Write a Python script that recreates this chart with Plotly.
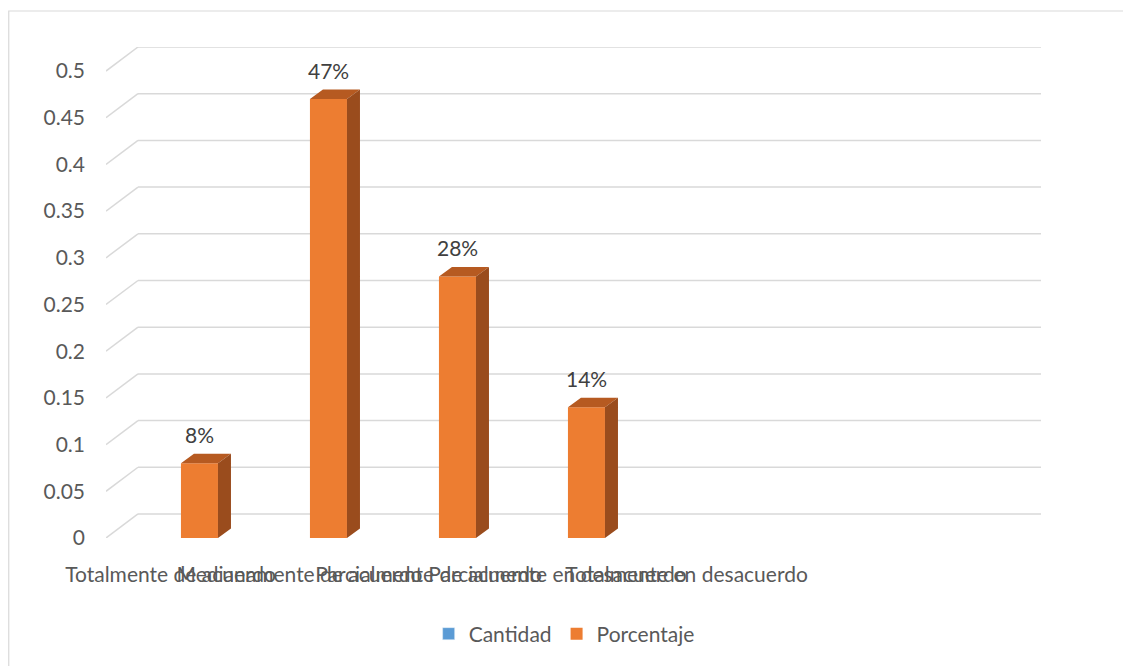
import plotly.graph_objects as go

# ---- data ----
categories = ["Totalmente de acuerdo", "Medianamente de acuerdo", "Parcialmente de acuerdo",
              "Parcialmente en desacuerdo", "Totalmente en desacuerdo", " ", "  "]
porcentaje = [0.08, 0.47, 0.28, 0.14, None, None, None]
cantidad = [None, None, None, None, None, None, None]
pct_labels = ["8%", "47%", "28%", "14%", "", "", ""]
y_ticks = [0, 0.05, 0.1, 0.15, 0.2, 0.25, 0.3, 0.35, 0.4, 0.45, 0.5]
y_tick_labels = ["0", "0.05", "0.1", "0.15", "0.2", "0.25", "0.3", "0.35", "0.4", "0.45", "0.5"]

# ---- layout geometry (page body has an 8px margin) ----
OFF = 8
W, H = 1131 - OFF, 666 - OFF
L, R, T, B = 106 - OFF, 1041 - OFF, 47 - OFF, 538 - OFF
plot_w, plot_h = R - L, B - T
slot_px = 129.0
x0 = -0.5
x1 = x0 + plot_w / slot_px
ppu = (538 - 71.7) / 0.5            # pixels per y-unit
gdx, gdy = 32 / slot_px, 24 / ppu     # back-wall depth offset
y1 = 0.5 + gdy
bar_off, bar_w = 0.081, 0.287
bdx, bdy = 13 / slot_px, 9.5 / ppu    # bar depth

ORANGE = "#ED7D31"
TOP = "#B65A21"
SIDE = "#9A4C1D"
BLUE = "#5B9BD5"
GRID = "#D9D9D9"
TXT = "#595959"
FONT = "Lato"

xs = list(range(len(categories)))

fig = go.Figure()

fig.add_trace(go.Bar(x=xs, y=cantidad, name="Cantidad", marker_color=BLUE,
                     offset=bar_off - bar_w, width=bar_w, hoverinfo="skip"))
fig.add_trace(go.Bar(x=xs, y=porcentaje, name="Porcentaje", marker_color=ORANGE,
                     marker_line_width=0, offset=bar_off, width=bar_w))

# 3D faces computed from the values
top_x, top_y, side_x, side_y = [], [], [], []
for i, v in zip(xs, porcentaje):
    if v is None:
        continue
    xl = i + bar_off
    xr = xl + bar_w
    top_x += [xl, xr, xr + bdx, xl + bdx, xl, None]
    top_y += [v, v, v + bdy, v + bdy, v, None]
    side_x += [xr, xr, xr + bdx, xr + bdx, xr, None]
    side_y += [0, v, v + bdy, bdy, 0, None]

fig.add_trace(go.Scatter(x=top_x, y=top_y, mode="lines", fill="toself", fillcolor=TOP,
                         line=dict(width=0, color=TOP), showlegend=False, hoverinfo="skip"))
fig.add_trace(go.Scatter(x=side_x, y=side_y, mode="lines", fill="toself", fillcolor=SIDE,
                         line=dict(width=0, color=SIDE), showlegend=False, hoverinfo="skip"))

# back wall gridlines + left wall connectors
shapes = []
for v in y_ticks:
    shapes.append(dict(type="line", xref="x", yref="y", x0=x0, y0=v, x1=x0 + gdx, y1=v + gdy,
                       line=dict(color=GRID, width=1.5), layer="below"))
    shapes.append(dict(type="line", xref="x", yref="y", x0=x0 + gdx, y0=v + gdy,
                       x1=x0 + gdx + 7, y1=v + gdy,
                       line=dict(color=GRID, width=1.5), layer="below"))
# chart border
shapes.append(dict(type="rect", xref="paper", yref="paper",
                   x0=(0.75 - L) / plot_w, x1=(1145 - OFF - L) / plot_w,
                   y0=(B - 700) / plot_h, y1=(B - (11 - OFF)) / plot_h,
                   line=dict(color=GRID, width=1.2), fillcolor="rgba(0,0,0,0)", layer="below"))

annotations = []
for i, v, t in zip(xs, porcentaje, pct_labels):
    if v is None:
        continue
    annotations.append(dict(x=i + bar_off + bar_w / 2, y=v, xref="x", yref="y", text=t,
                            showarrow=False, yshift=29, yanchor="middle",
                            font=dict(family=FONT, size=21, color="#404040")))

fig.update_layout(
    width=W, height=H,
    margin=dict(l=L, r=W - R, t=T, b=H - B, pad=0),
    paper_bgcolor="white", plot_bgcolor="rgba(0,0,0,0)",
    barmode="overlay",
    shapes=shapes, annotations=annotations,
    font=dict(family=FONT, size=21, color=TXT),
    legend=dict(orientation="h", x=0.49, xanchor="center", y=(B - (634 - OFF)) / plot_h,
                yanchor="middle", font=dict(family=FONT, size=21, color=TXT),
                bgcolor="rgba(0,0,0,0)"),
    xaxis=dict(range=[x0, x1], tickmode="array", tickvals=xs, ticktext=categories, tickangle=0,
               showgrid=False, zeroline=False, showline=False, ticks="", ticklabelstandoff=22,
               tickfont=dict(family=FONT, size=21, color=TXT), fixedrange=True),
    yaxis=dict(range=[0, y1], tickmode="array", tickvals=y_ticks, ticktext=y_tick_labels,
               showgrid=False, zeroline=False, showline=False, ticks="", ticklabelstandoff=20,
               tickfont=dict(family=FONT, size=21, color=TXT), fixedrange=True),
    showlegend=True,
)

fig.write_html("out.html")
